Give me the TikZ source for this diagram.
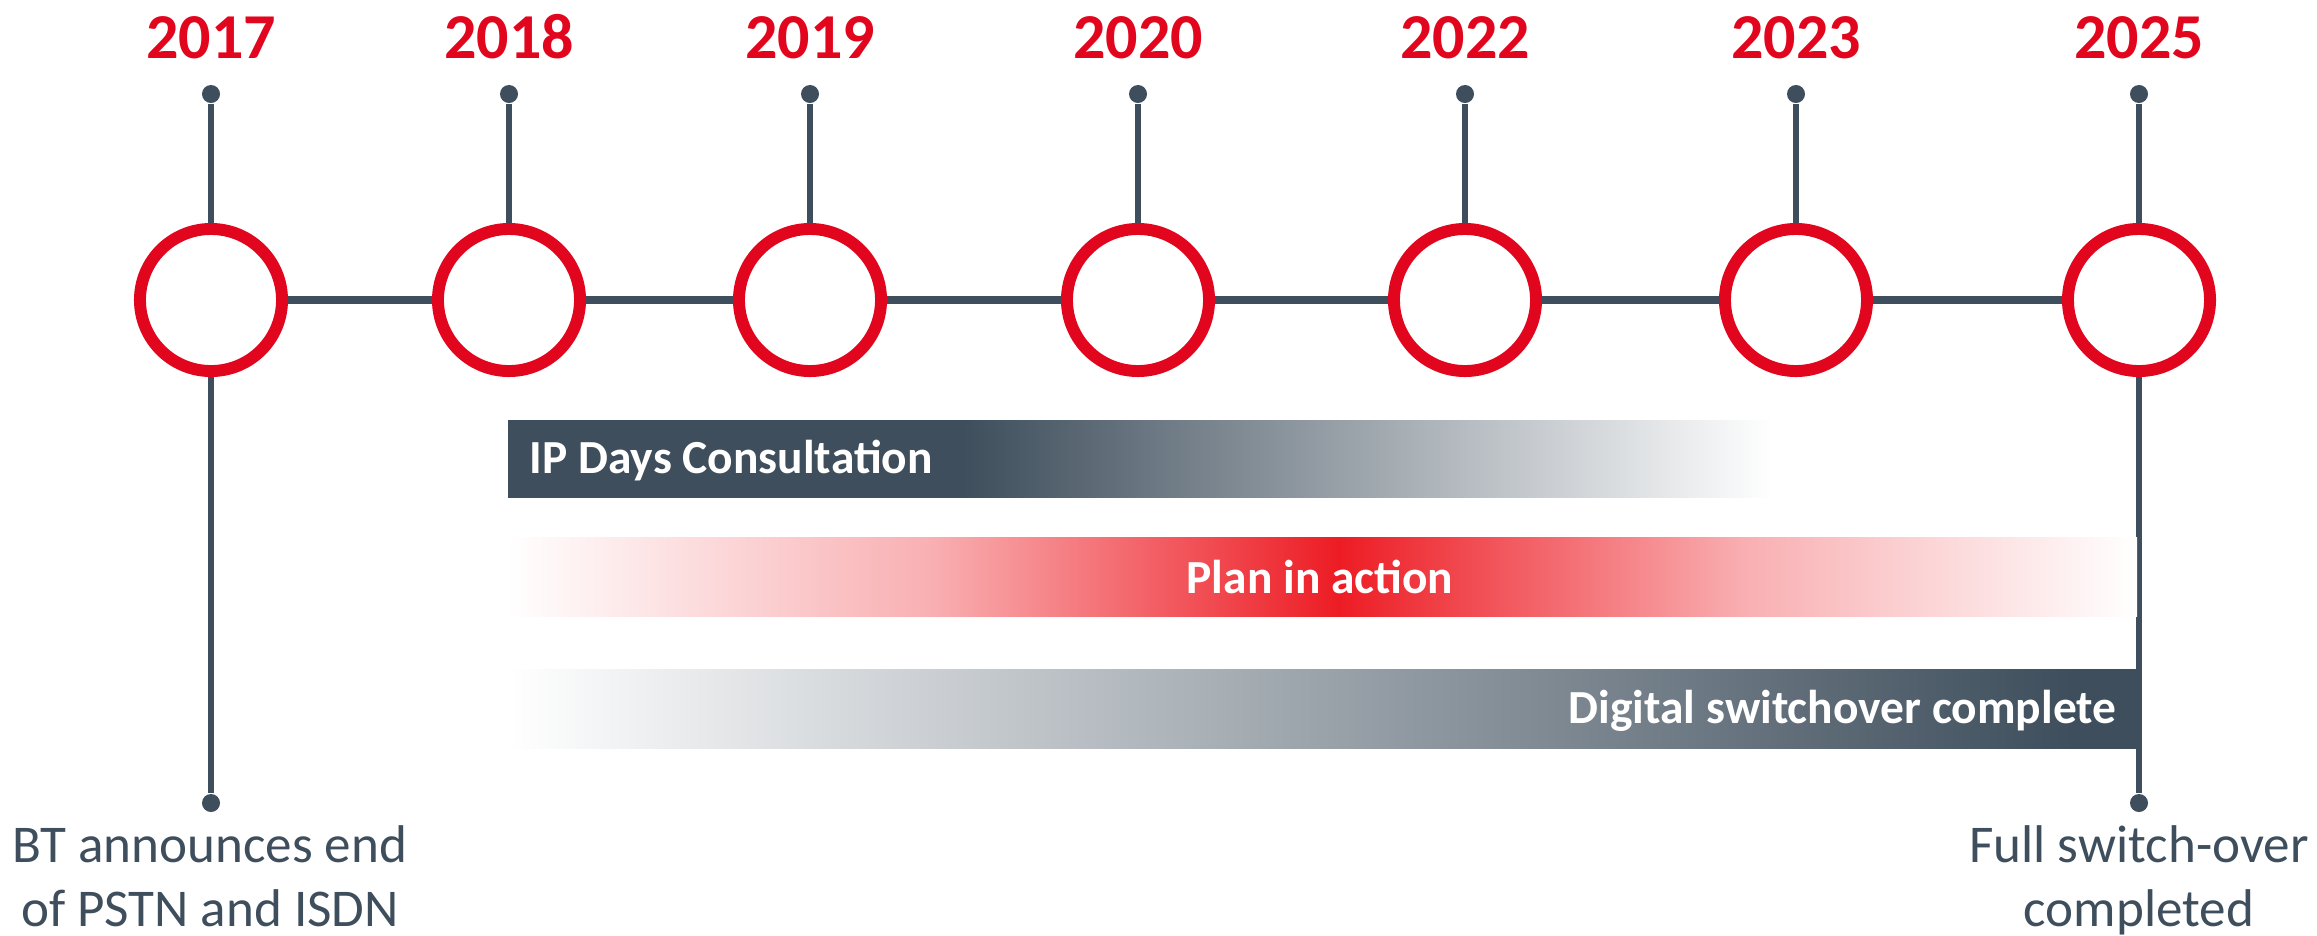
\documentclass[tikz,border=0pt]{standalone}
\usepackage{fontspec}
\setmainfont{Carlito}
\definecolor{slate}{HTML}{3E4E5C}
\definecolor{ringred}{HTML}{E1061E}
\definecolor{planred}{HTML}{ED1C24}
\colorlet{planpink}{planred!35!white}
\pgfdeclarehorizontalshading{ipfade}{100bp}{color(0bp)=(slate); color(43bp)=(slate); color(75bp)=(white); color(100bp)=(white)}
\pgfdeclarehorizontalshading{planfade}{100bp}{color(0bp)=(white); color(25bp)=(white); color(38bp)=(planpink); color(50.5bp)=(planred); color(63bp)=(planpink); color(75bp)=(white); color(100bp)=(white)}
\pgfdeclarehorizontalshading{donefade}{100bp}{color(0bp)=(white); color(25bp)=(white); color(73bp)=(slate); color(100bp)=(slate)}
\begin{document}
\begin{tikzpicture}[x=0.01cm,y=0.01cm,
    ring/.style={circle, draw=ringred, fill=white, line width=3.4pt, minimum size=1.42cm, inner sep=0pt},
    pin/.style={circle, fill=slate, minimum size=0.18cm, inner sep=0pt},
    stem/.style={draw=slate, line width=1.7pt},
    axis/.style={draw=slate, line width=2pt},
    year/.style={text=ringred, font=\bfseries\fontsize{18.2}{22}\selectfont, inner sep=0pt, anchor=base},
    bartext/.style={text=white, font=\bfseries\fontsize{13.5}{16}\selectfont, inner sep=0pt},
    note/.style={text=slate, font=\fontsize{15.1}{18.2}\selectfont, align=center, inner sep=0pt}]
    \useasboundingbox (0,0) rectangle (2317,935);
    % years, pins and rings
    \foreach \x/\yr [count=\i] in {211/2017,509/2018,810/2019,1138/2020,1465/2022,1796/2023,2139/2025} {
        \node[year] (y\i) at (\x,877) {\yr};
        \node[pin] (t\i) at (\x,841) {};
        \node[ring] (c\i) at (\x,635) {};
        \draw[stem] (t\i) -- (c\i.north);
    }
    \foreach \i [evaluate=\i as \j using int(\i+1)] in {1,...,6}
        \draw[axis] (c\i.east) -- (c\j.west);
    % end points below
    \node[pin] (b1) at (211,132) {};
    \node[pin] (b7) at (2139,132) {};
    \draw[stem] (c1.south) -- (b1);
    \draw[stem] (c7.south) -- (b7);
    \node[note, anchor=base] (bt) at (210,9) {BT announces end\\of PSTN and ISDN};
    \node[note, anchor=base] (full) at (2139,9) {Full switch-over\\completed};
    % bars
    \shade[shading=ipfade] (508,438) rectangle (1773,515);
    \shade[shading=planfade] (508,319) rectangle (2137,398);
    \shade[shading=donefade] (508,187) rectangle (2137,266);
    \node[bartext, anchor=base west] (ip) at (529,462) {IP Days Consultation};
    \node[bartext, anchor=base] (plan) at (1320,342) {Plan in action};
    \node[bartext, anchor=base east] (done) at (2117,212) {Digital switchover complete};
\end{tikzpicture}
\end{document}
